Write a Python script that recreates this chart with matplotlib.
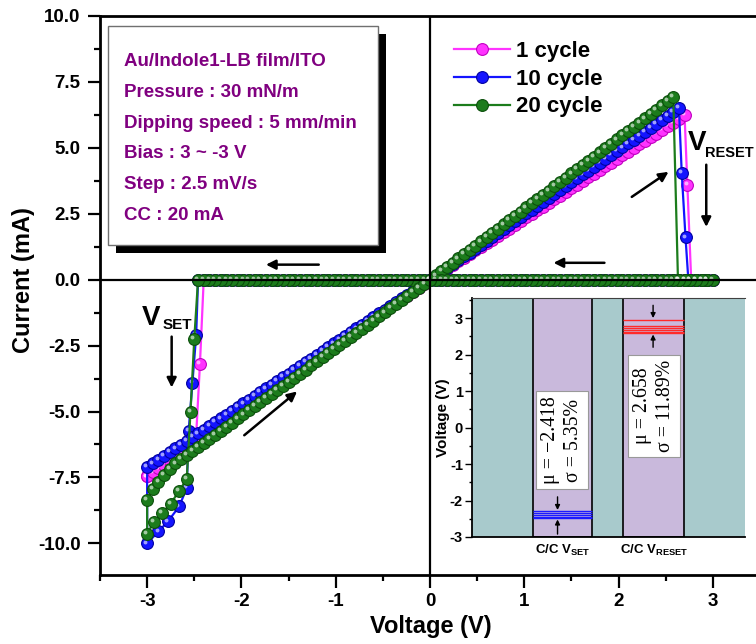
import numpy as np
import matplotlib
matplotlib.use("Agg")
import matplotlib.pyplot as plt
from matplotlib.patches import Rectangle
from matplotlib.transforms import offset_copy
from matplotlib.ticker import MultipleLocator, FormatStrFormatter

plt.rcParams['font.family'] = ['Liberation Sans', 'DejaVu Sans']
plt.rcParams['font.weight'] = 'bold'
plt.rcParams['axes.unicode_minus'] = False
plt.rcParams['mathtext.fontset'] = 'custom'
plt.rcParams['mathtext.rm'] = 'Liberation Sans:bold'
plt.rcParams['mathtext.bf'] = 'Liberation Sans:bold'
plt.rcParams['mathtext.it'] = 'Liberation Sans:bold'

# voltage grid of the sweep (V)
V_UP = [0.00, 0.06, 0.12, 0.18, 0.24, 0.30, 0.36, 0.42, 0.48, 0.54,
        0.60, 0.66, 0.72, 0.78, 0.84, 0.90, 0.96, 1.02, 1.08, 1.14,
        1.20, 1.26, 1.32, 1.38, 1.44, 1.50, 1.56, 1.62, 1.68, 1.74,
        1.80, 1.86, 1.92, 1.98, 2.04, 2.10, 2.16, 2.22, 2.28, 2.34,
        2.40, 2.46, 2.52, 2.58, 2.64, 2.70, 2.76, 2.82, 2.88, 2.94, 3.00]

labels = ['1 cycle', '10 cycle', '20 cycle']
colors = ['#FF33FF', '#1414FF', '#1C7C1C']
edges = ['#C000C0', '#0000A0', '#0B4F0B']

# positive LRS branch, 0 V -> reset (mA)
up_1 = [0, 0.14, 0.28, 0.42, 0.55, 0.69, 0.83, 0.97, 1.11, 1.25, 1.39, 1.52, 1.66, 1.80, 1.94,
        2.08, 2.22, 2.36, 2.49, 2.63, 2.77, 2.91, 3.05, 3.19, 3.33, 3.47, 3.60, 3.74, 3.88, 4.02,
        4.16, 4.30, 4.44, 4.57, 4.71, 4.85, 4.99, 5.13, 5.27, 5.41, 5.54, 5.68, 5.82, 5.96, 6.10, 6.24]
up_10 = [0, 0.15, 0.30, 0.44, 0.59, 0.74, 0.89, 1.03, 1.18, 1.33, 1.48, 1.62, 1.77, 1.92, 2.07,
         2.21, 2.36, 2.51, 2.66, 2.81, 2.95, 3.10, 3.25, 3.40, 3.54, 3.69, 3.84, 3.99, 4.13, 4.28,
         4.43, 4.58, 4.72, 4.87, 5.02, 5.17, 5.31, 5.46, 5.61, 5.76, 5.90, 6.05, 6.20, 6.35, 6.50]
up_20 = [0, 0.16, 0.32, 0.48, 0.64, 0.81, 0.97, 1.13, 1.29, 1.45, 1.61, 1.77, 1.93, 2.10, 2.26,
         2.42, 2.58, 2.74, 2.90, 3.06, 3.22, 3.38, 3.55, 3.71, 3.87, 4.03, 4.19, 4.35, 4.51, 4.67,
         4.83, 5.00, 5.16, 5.32, 5.48, 5.64, 5.80, 5.96, 6.12, 6.29, 6.45, 6.61, 6.77, 6.93]

# reset points
reset_v_1 = [2.73, 2.77]
reset_i_1 = [3.6, 0.0]
reset_v_10 = [2.67, 2.71, 2.74]
reset_i_10 = [4.05, 1.6, 0.0]
reset_v_20 = [2.63]
reset_i_20 = [0.0]

# set voltage (last HRS point) and set / lower branch points
set_start = [2.40, 2.46, 2.46]
set_v_1 = [-2.44, -2.48, -2.52, -2.58, -2.64, -2.70, -2.76, -2.82, -2.88, -2.94, -3.00]
set_i_1 = [-3.2, -5.9, -6.05, -6.25, -6.45, -6.65, -6.85, -7.0, -7.15, -7.3, -7.46]
set_v_10 = [-2.48, -2.52, -2.56, -2.58, -2.66, -2.78, -2.88, -3.00]
set_i_10 = [-2.1, -3.9, -5.75, -7.9, -8.6, -9.17, -9.55, -10.0]
set_v_20 = [-2.50, -2.54, -2.58, -2.66, -2.75, -2.84, -2.93, -3.00]
set_i_20 = [-2.24, -5.0, -7.57, -8.0, -8.5, -8.85, -9.2, -9.63]

# negative LRS return, -3 V -> 0 V (mA)
back_1 = [-7.46, -7.31, -7.16, -7.01, -6.86, -6.71, -6.56, -6.41, -6.27, -6.12, -5.97, -5.82, -5.67,
          -5.52, -5.37, -5.22, -5.07, -4.92, -4.77, -4.63, -4.48, -4.33, -4.18, -4.03, -3.88, -3.73,
          -3.58, -3.43, -3.28, -3.13, -2.99, -2.84, -2.69, -2.54, -2.39, -2.24, -2.09, -1.94, -1.79,
          -1.64, -1.49, -1.34, -1.19, -1.04, -0.90, -0.75, -0.60, -0.45, -0.30, -0.15, 0.0]
back_10 = [-7.11, -6.97, -6.83, -6.68, -6.54, -6.40, -6.26, -6.12, -5.97, -5.83, -5.69, -5.55, -5.40,
           -5.26, -5.12, -4.98, -4.83, -4.69, -4.55, -4.41, -4.27, -4.12, -3.98, -3.84, -3.70, -3.56,
           -3.41, -3.27, -3.13, -2.99, -2.84, -2.70, -2.56, -2.42, -2.28, -2.13, -1.99, -1.85, -1.71,
           -1.56, -1.42, -1.28, -1.14, -1.00, -0.85, -0.71, -0.57, -0.43, -0.28, -0.14, 0.0]
back_20 = [-8.35, -7.95, -7.66, -7.40, -7.17, -6.97, -6.81, -6.66, -6.50, -6.35, -6.19, -6.04, -5.88,
           -5.73, -5.57, -5.42, -5.26, -5.11, -4.95, -4.80, -4.64, -4.49, -4.33, -4.18, -4.02, -3.87,
           -3.72, -3.56, -3.41, -3.25, -3.10, -2.94, -2.79, -2.63, -2.48, -2.32, -2.17, -2.01, -1.86,
           -1.70, -1.55, -1.39, -1.24, -1.08, -0.93, -0.77, -0.62, -0.46, -0.31, -0.15, 0.0]

# inset: cycle-to-cycle switching voltages
cats = ['C/C V$_{\\mathbf{SET}}$', 'C/C V$_{\\mathbf{RESET}}$']
vset_lines = [-2.29, -2.35, -2.40, -2.44, -2.48]
vreset_lines = [2.95, 2.78, 2.72, 2.67, 2.62, 2.59]
stats = ['\u03bc = \u22122.418\n\u03c3 = 5.35%', '\u03bc = 2.658\n\u03c3 = 11.89%']

info = ['Au/Indole1-LB film/ITO', 'Pressure : 30 mN/m', 'Dipping speed : 5 mm/min',
        'Bias : 3 ~ -3 V', 'Step : 2.5 mV/s', 'CC : 20 mA']


def build(up, rv, ri, s0, sv, si, back):
    v = V_UP[:len(up)] + rv
    i = list(up) + ri
    hrs = [x for x in V_UP if x > rv[-1]] + V_UP[::-1][1:] + [-x for x in V_UP[1:] if x <= s0 + 1e-9]
    v += hrs
    i += [0.0] * len(hrs)
    v += sv
    i += si
    v += [-x for x in V_UP[::-1]]
    i += back
    return v, i


cycles = [build(up_1, reset_v_1, reset_i_1, set_start[0], set_v_1, set_i_1, back_1),
          build(up_10, reset_v_10, reset_i_10, set_start[1], set_v_10, set_i_10, back_10),
          build(up_20, reset_v_20, reset_i_20, set_start[2], set_v_20, set_i_20, back_20)]

W, H = 756, 644
fig = plt.figure(figsize=(W / 100, H / 100), dpi=100)
ax = fig.add_axes([100 / W, 1 - 575 / H, 660 / W, 559 / H])

hl = offset_copy(ax.transData, fig=fig, x=-1.3, y=1.3, units='points')
handles = []
for k in range(3):
    v, i = cycles[k]
    ln, = ax.plot(v, i, '-', color=colors[k], lw=1.6, marker='o', ms=8.5,
                  mfc=colors[k], mec=edges[k], mew=0.8, zorder=3 + k, label=labels[k])
    ax.plot(v, i, ls='none', marker='o', ms=2.8, mfc='white', mec='none', alpha=0.6,
            transform=hl, zorder=3.5 + k)
    handles.append(ln)

ax.axhline(0, color='k', lw=1.6, zorder=7)
ax.axvline(0, color='k', lw=1.6, zorder=7)

ax.set_xlim(-3.5, 3.5)
ax.set_ylim(-11.2, 10.0)
ax.xaxis.set_major_locator(MultipleLocator(1))
ax.xaxis.set_minor_locator(MultipleLocator(0.5))
ax.yaxis.set_major_locator(MultipleLocator(2.5))
ax.yaxis.set_minor_locator(MultipleLocator(1.25))
ax.yaxis.set_major_formatter(FormatStrFormatter('%.1f'))
ax.tick_params(which='major', direction='out', length=9, width=1.6, labelsize=13.5, pad=4)
ax.tick_params(which='minor', direction='out', length=4.5, width=1.6)
ax.tick_params(axis='y', which='major', pad=5)
ax.spines['right'].set_visible(False)
for s in ['left', 'bottom', 'top']:
    ax.spines[s].set_linewidth(2)
ax.set_xlabel('Voltage (V)', fontsize=17, fontweight='bold')
ax.set_ylabel('Current (mA)', fontsize=17, fontweight='bold')
ax.xaxis.set_label_coords(0.5015, -0.072)
ax.yaxis.set_label_coords(-0.098, 0.528)

leg = ax.legend(handles=handles, loc='upper left', bbox_to_anchor=(443 / W, 1 - 30 / H),
                bbox_transform=fig.transFigure, frameon=False, fontsize=16,
                handlelength=2.5, handletextpad=0.3, labelspacing=0.3, borderpad=0)

# arrows and labels
arrows = [((-1.18, 0.57), (-1.74, 0.57)), ((1.85, 0.64), (1.31, 0.64)),
          ((2.14, 3.14), (2.53, 4.09)), ((-1.97, -5.9), (-1.41, -4.24)),
          ((-2.74, -2.16), (-2.74, -4.09)), ((2.93, 4.36), (2.93, 2.0))]
for tail, head in arrows:
    ax.annotate('', xy=head, xytext=tail,
                arrowprops=dict(arrowstyle='-|>', color='k', lw=1.8, mutation_scale=14,
                                shrinkA=0, shrinkB=0), zorder=8)
ax.text(-3.06, -1.72, 'V', fontsize=20, ha='left', va='baseline')
ax.text(-2.84, -1.88, 'SET', fontsize=11, ha='left', va='baseline')
ax.text(2.73, 4.9, 'V', fontsize=20, ha='left', va='baseline')
ax.text(2.92, 4.64, 'RESET', fontsize=10.5, ha='left', va='baseline')

# info box with shadow
fig.add_artist(Rectangle((116 / W, 1 - 253 / H), 270 / W, 219 / H, transform=fig.transFigure,
                         fc='black', ec='none', zorder=9))
fig.add_artist(Rectangle((108 / W, 1 - 245 / H), 270 / W, 219 / H, transform=fig.transFigure,
                         fc='white', ec='#707070', lw=1, zorder=10))
for n, line in enumerate(info):
    fig.text(124 / W, 1 - (66 + 30.8 * n) / H, line, color='#800080', fontsize=13.5,
             fontweight='bold', va='baseline', ha='left', zorder=11)

# inset
ax2 = fig.add_axes([472 / W, 1 - 537 / H, 273 / W, 239 / H])
ax2.set_facecolor('#A8CACC')
ax2.set_xlim(0, 3)
ax2.set_ylim(-3, 3.55)
ax2.axvspan(0.67, 1.32, fc='#C9B9DC', ec='k', lw=1.2)
ax2.axvspan(1.66, 2.33, fc='#C9B9DC', ec='k', lw=1.2)
ax2.hlines(vset_lines, 0.67, 1.32, colors='#1A1AFF', lw=1.0)
ax2.hlines(vreset_lines, 1.66, 2.33, colors='#FF2A2A', lw=1.0)
small = [((0.94, -1.9), (0.94, -2.26)), ((0.94, -2.92), (0.94, -2.52)),
         ((1.99, 3.35), (1.99, 3.0)), ((1.99, 2.2), (1.99, 2.55))]
for tail, head in small:
    ax2.annotate('', xy=head, xytext=tail,
                 arrowprops=dict(arrowstyle='-|>', color='k', lw=1, mutation_scale=7,
                                 shrinkA=0, shrinkB=0))
for xc, yc, s in [(0.99, -0.35, stats[0]), (2.0, 0.6, stats[1])]:
    ax2.text(xc, yc, s, rotation=90, ha='center', va='center', fontsize=14.3,
             family=['Liberation Serif', 'DejaVu Serif'], fontweight='normal',
             linespacing=1.3, multialignment='center',
             bbox=dict(boxstyle='square,pad=0.25', fc='white', ec='#999999', lw=0.8))
ax2.set_xticks([1, 2])
ax2.set_xticklabels(cats, fontsize=9.5, fontweight='bold')
ax2.tick_params(axis='x', length=0, pad=4)
ax2.yaxis.set_major_locator(MultipleLocator(1))
ax2.yaxis.set_minor_locator(MultipleLocator(0.5))
ax2.tick_params(axis='y', which='major', direction='out', length=5, width=1, labelsize=10.5, pad=1.5)
ax2.tick_params(axis='y', which='minor', direction='out', length=2.5, width=1)
ax2.set_ylabel('Voltage (V)', fontsize=11, fontweight='bold', labelpad=0)
ax2.spines['right'].set_visible(False)
ax2.spines['top'].set_color('#404040')
ax2.spines['left'].set_linewidth(1.3)
ax2.spines['bottom'].set_linewidth(1.3)

fig.savefig('out.png', dpi=100)
